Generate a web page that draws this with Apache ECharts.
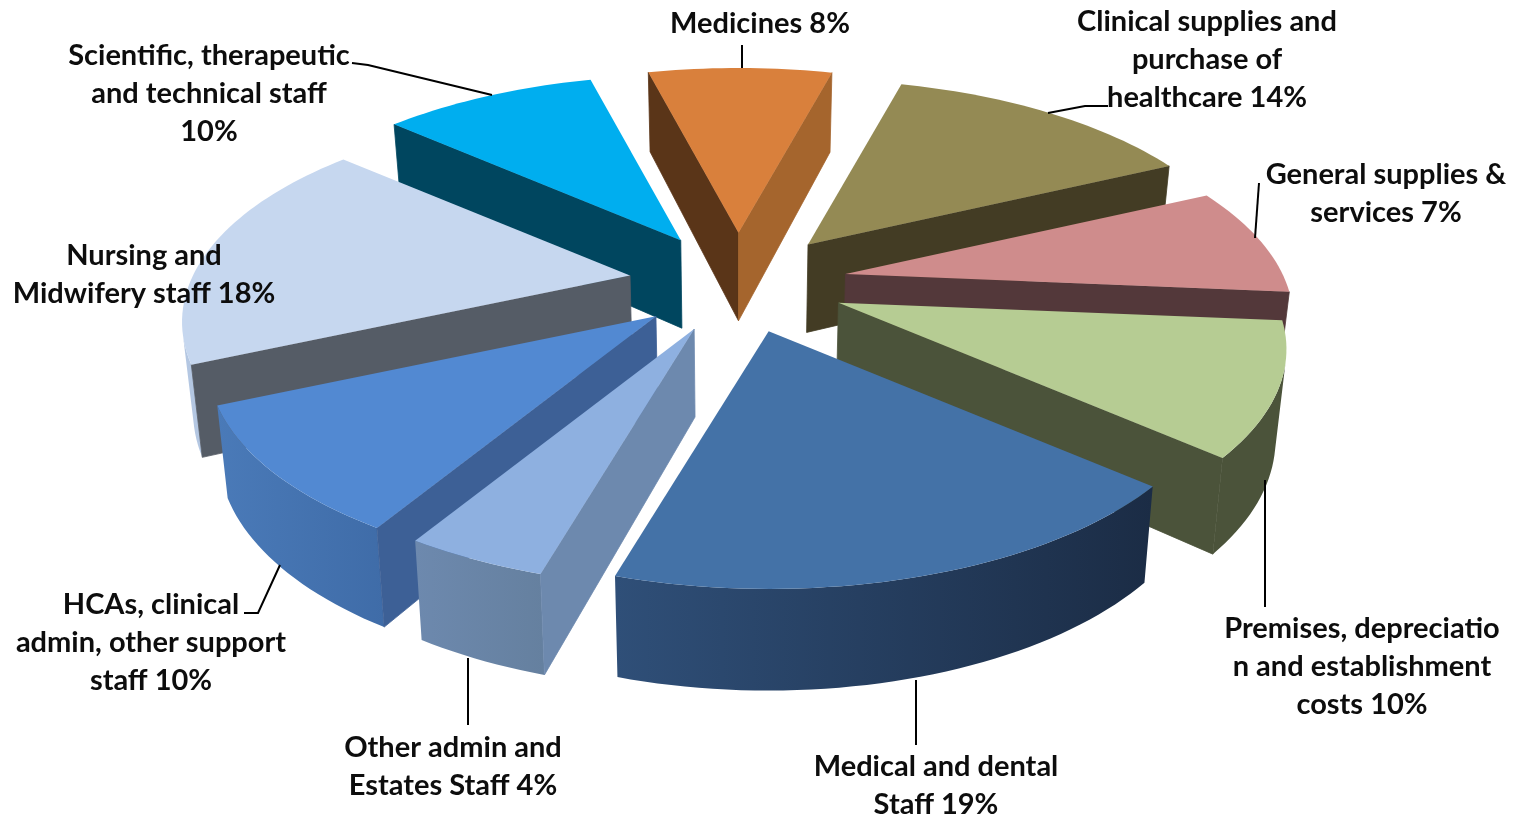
<!DOCTYPE html>
<html>
<head>
    <meta charset="utf-8">
    <title>ECharts</title>
    <script src="https://cdn.jsdelivr.net/npm/echarts@6/dist/echarts.min.js"></script>
    <style>
        html, body { margin: 0; padding: 0; background: #fff; }
    </style>
</head>
<body>
<div id="main" style="width: 1521px;height:817px;"></div>
<script type="text/javascript">
    // data, clockwise from the top of the pie
    const categories = [
        'Medicines',
        'Clinical supplies and\npurchase of\nhealthcare',
        'General supplies &\nservices',
        'Premises, depreciatio\nn and establishment\ncosts',
        'Medical and dental\nStaff',
        'Other admin and\nEstates Staff',
        'HCAs, clinical\nadmin, other support\nstaff',
        'Nursing and\nMidwifery staff',
        'Scientific, therapeutic\nand technical staff\n'
    ];
    // percentages as printed on the labels
    const labelPercents = [8, 14, 7, 10, 19, 4, 10, 18, 10];
    const values = [8.2, 13.8, 8.4, 10.1, 18, 4.2, 9.7, 18.1, 9.5];

    // colours per slice
    const topColors = ['#d9803c', '#948a54', '#cf8c8c', '#b6cc93', '#4472a7', '#8eb0e0', '#5289d2', '#c6d7ef', '#00aeef'];
    const startFaceColors = ['#5a3518', '#433c24', '#53383a', '#4b533a', '#2f4f78', '#6d89ae', '#3d6096', '#555c66', '#00465f'];
    const endFaceColors = ['#a5652d', '#433c24', '#53383a', '#4b533a', '#2f4f78', '#6d89ae', '#3d6096', '#555c66', '#00465f'];
    const wallLeft = ['#a5652d', '#433c24', '#53383a', '#4b533a', '#2f4f78', '#6d89ae', '#4a7ab8', '#b4c7e2', '#00465f'];
    const wallRight = ['#a5652d', '#433c24', '#53383a', '#4b533a', '#1b2c45', '#65809f', '#3f6ca8', '#b4c7e2', '#00465f'];

    // far slices are painted first so the near ones cover them
    const paintOrder = [8, 0, 1, 2, 7, 3, 6, 5, 4];

    // label placement: centre x, centre y of first line
    const labelX = [760, 1207, 1386, 1362, 936, 453, 151, 144, 209];
    const labelY = [24, 22, 175, 629, 767, 748, 605, 256, 56];
    const leaders = [
        [[742, 45], [742, 68]],
        [[1108, 106], [1085, 106], [1048, 113]],
        [[1259, 183], [1255, 238]],
        [[1265, 480], [1265, 607]],
        [[916, 680], [916, 745]],
        [[468, 658], [468, 725]],
        [[244, 613], [258, 613], [280, 565]],
        [],
        [[352, 63], [368, 65], [492, 95]]
    ];

    // pie geometry
    const startAngle = -14.5;
    const centerX = 738, centerY = 283;
    const radiusX = 437, radiusY = 201;
    const perspective = 0.22;
    const explode = 0.25;
    const depth = 88;

    const total = values.reduce(function (a, b) { return a + b; }, 0);
    let running = startAngle;
    const spans = values.map(function (v) {
        const from = running;
        running += v / total * 360;
        return [from, running];
    });

    function rad(deg) { return deg * Math.PI / 180; }

    function area(pts) {
        let sum = 0;
        for (let i = 0; i < pts.length; i++) {
            const a = pts[i], b = pts[(i + 1) % pts.length];
            sum += a[0] * b[1] - b[0] * a[1];
        }
        return sum;
    }

    function renderSlice(params, api) {
        const idx = api.value(0);
        const from = api.value(1), to = api.value(2);
        const mid = rad((from + to) / 2);
        const ax = centerX + radiusX * explode * Math.sin(mid);
        const ay = centerY - radiusY * explode * Math.cos(mid);

        function top(deg) {
            const u = Math.sin(rad(deg)), v = Math.cos(rad(deg));
            const s = 1 / (1 + perspective * v);
            return [ax + radiusX * u * s, ay - radiusY * v * s, s];
        }
        function bottom(p) {
            return [p[0] - (p[0] - centerX) * 0.02, p[1] + depth * (1 + (p[2] - 1) * 0.55)];
        }

        const apex = [ax, ay, 1];
        const apexB = bottom(apex);
        const rim = [];
        const steps = Math.ceil((to - from) / 1.5);
        for (let i = 0; i <= steps; i++) {
            rim.push(top(from + (to - from) * i / steps));
        }
        const children = [];

        // curved outer wall, only where it faces the viewer
        let wallTop = [];
        for (let i = 0; i < steps; i++) {
            const q = [rim[i], rim[i + 1], bottom(rim[i + 1]), bottom(rim[i])];
            if (area(q) < 0) {
                if (!wallTop.length) wallTop.push(rim[i]);
                wallTop.push(rim[i + 1]);
            }
        }
        if (wallTop.length) {
            const wallPts = wallTop.map(function (p) { return [p[0], p[1]]; })
                .concat(wallTop.slice().reverse().map(bottom));
            children.push({
                type: 'polygon',
                shape: { points: wallPts },
                style: {
                    fill: {
                        type: 'linear', x: 0, y: 0, x2: 1, y2: 0,
                        colorStops: [
                            { offset: 0, color: wallLeft[idx] },
                            { offset: 1, color: wallRight[idx] }
                        ]
                    }
                }
            });
        }

        // the two cut faces, thin stroke closes the seam against the wall
        const startFace = [apex, rim[0], bottom(rim[0]), apexB];
        if (area(startFace) < 0) {
            children.push({
                type: 'polygon',
                shape: { points: startFace },
                style: { fill: startFaceColors[idx], stroke: startFaceColors[idx], lineWidth: 0.8 }
            });
        }
        const endFace = [apex, rim[steps], bottom(rim[steps]), apexB];
        if (area(endFace) > 0) {
            children.push({
                type: 'polygon',
                shape: { points: endFace },
                style: { fill: endFaceColors[idx], stroke: endFaceColors[idx], lineWidth: 0.8 }
            });
        }

        // top surface
        children.push({
            type: 'polygon',
            shape: { points: [apex].concat(rim) },
            style: { fill: topColors[idx] }
        });
        return { type: 'group', children: children };
    }

    const labelFont = '700 29px Lato, "Open Sans", sans-serif';
    const graphics = [];
    categories.forEach(function (name, i) {
        if (leaders[i].length) {
            graphics.push({
                type: 'polyline',
                z: 10,
                shape: { points: leaders[i] },
                style: { stroke: '#000', lineWidth: 2, fill: null }
            });
        }
        const text = (name.endsWith('\n') ? name : name + ' ') + labelPercents[i] + '%';
        graphics.push({
            type: 'text',
            z: 11,
            x: labelX[i],
            y: labelY[i] - 19,
            style: {
                text: text,
                font: labelFont,
                fill: '#0d0d0d',
                align: 'center',
                verticalAlign: 'top',
                lineHeight: 38
            }
        });
    });

    const myChart = echarts.init(document.getElementById('main'));
    myChart.setOption({
        animation: false,
        backgroundColor: '#ffffff',
        graphic: graphics,
        series: [{
            type: 'custom',
            coordinateSystem: 'none',
            silent: true,
            renderItem: renderSlice,
            data: paintOrder.map(function (i) {
                return [i, spans[i][0], spans[i][1]];
            })
        }]
    });
</script>
</body>
</html>
